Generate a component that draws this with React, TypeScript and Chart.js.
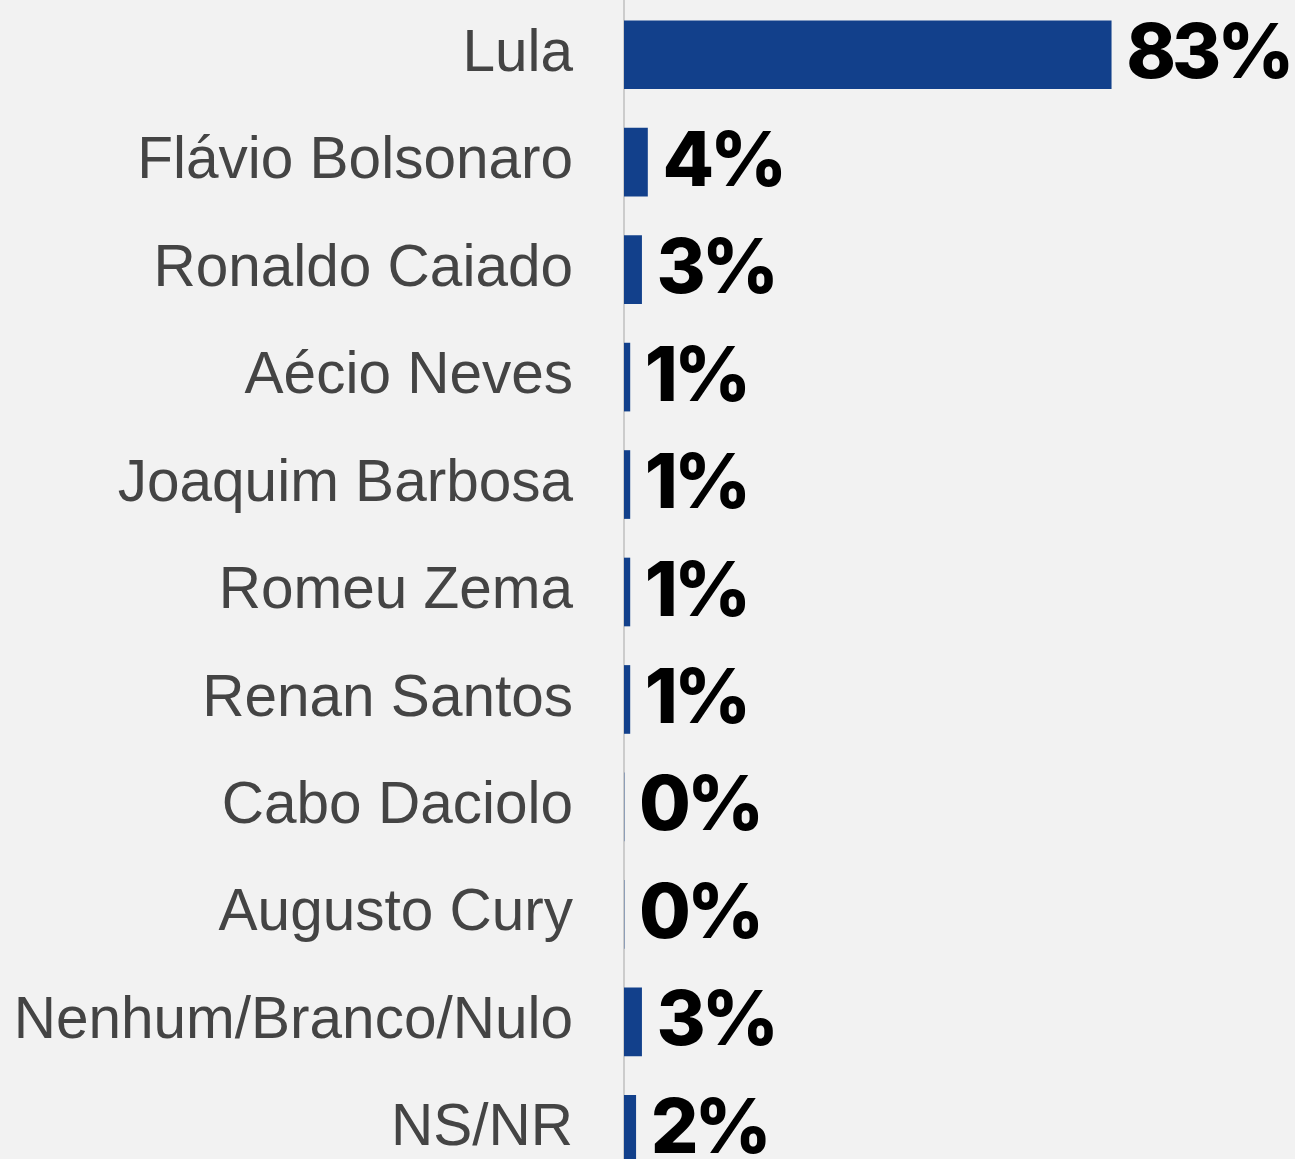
import React, { useEffect, useRef } from "react";
import { Chart, registerables } from "chart.js";

Chart.register(...registerables);

const categories = [
  "Lula",
  "Flávio Bolsonaro",
  "Ronaldo Caiado",
  "Aécio Neves",
  "Joaquim Barbosa",
  "Romeu Zema",
  "Renan Santos",
  "Cabo Daciolo",
  "Augusto Cury",
  "Nenhum/Branco/Nulo",
  "NS/NR",
];
const values = [83, 4, 3, 1, 1, 1, 1, 0, 0, 3, 2];

const BG = "#f2f2f2";
const BAR = "#12408b";

const valueLabels = {
  id: "valueLabels",
  afterDatasetsDraw(chart: any) {
    const ctx = chart.ctx;
    const meta = chart.getDatasetMeta(0);
    ctx.save();
    ctx.font = "800 75px Inter, 'Open Sans', sans-serif";
    try {
      ctx.letterSpacing = "-4px";
    } catch (e) {}
    ctx.fillStyle = "#000000";
    ctx.textAlign = "left";
    ctx.textBaseline = "middle";
    meta.data.forEach((bar: any, i: number) => {
      const v = chart.data.datasets[0].data[i];
      ctx.fillText(v + "%", bar.x + 15, bar.y + 1);
    });
    ctx.restore();
  },
};

export default function App() {
  const ref = useRef<HTMLCanvasElement>(null);
  useEffect(() => {
    document.body.style.margin = "0";
    document.body.style.background = BG;
    const chart = new Chart(ref.current!, {
      type: "bar",
      data: {
        labels: categories,
        datasets: [
          {
            data: values,
            backgroundColor: BAR,
            barThickness: 68,
            categoryPercentage: 1,
          },
        ],
      },
      options: {
        indexAxis: "y",
        animation: false,
        responsive: true,
        maintainAspectRatio: false,
        layout: { padding: { top: 1, right: 84, left: 0, bottom: 0 } },
        plugins: {
          legend: { display: false },
          tooltip: { enabled: false },
        },
        scales: {
          x: {
            display: false,
            min: 0,
            max: 100,
          },
          y: {
            afterFit(scale: any) {
              scale.width = 624;
              scale.paddingTop = 0;
              scale.paddingBottom = 0;
            },
            grid: { display: false, drawTicks: false, tickLength: 0 },
            border: { display: true, color: "#cccccc", width: 2 },
            ticks: {
              color: "#444444",
              padding: 51,
              font: { family: "'Liberation Sans', Arial, sans-serif", size: 58.5 },
            },
          },
        },
      },
      plugins: [valueLabels],
    });
    return () => chart.destroy();
  }, []);
  return (
    <div style={{ width: 1295, height: 1159, overflow: "hidden", background: BG }}>
      <div style={{ width: 1295, height: 1183, position: "relative" }}>
        <canvas ref={ref} />
      </div>
    </div>
  );
}
